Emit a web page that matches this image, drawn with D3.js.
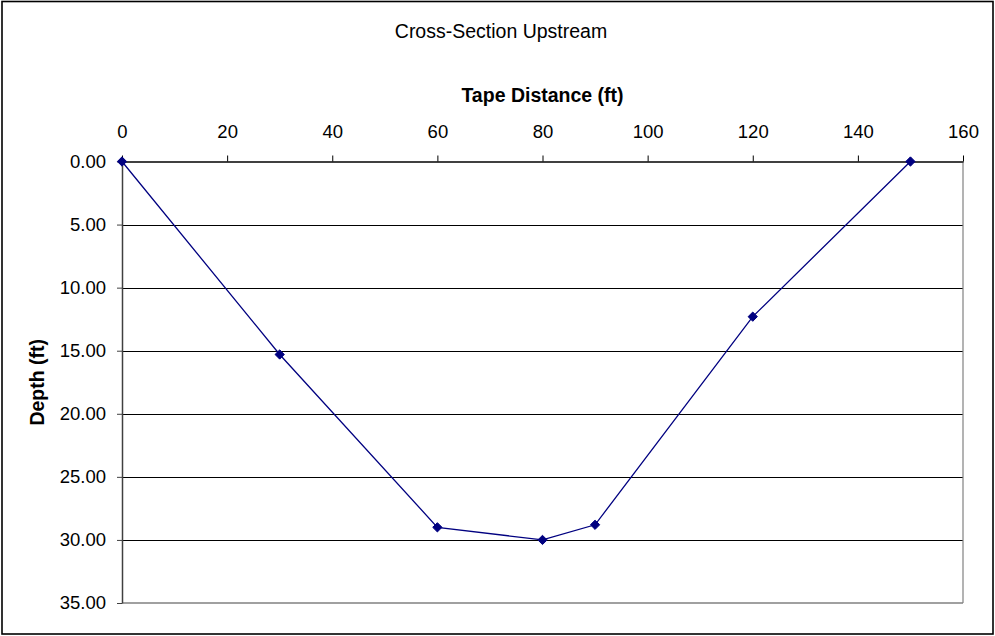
<!DOCTYPE html>
<html>
<head>
<meta charset="utf-8">
<script src="https://cdn.jsdelivr.net/npm/d3@7"></script>
<style>
  html, body { margin: 0; padding: 0; background: #fff; }
  svg { display: block; }
  text { font-family: "Liberation Sans", Arial, sans-serif; fill: #000; }
</style>
</head>
<body>
<svg id="chart" width="995" height="636"></svg>
<script>
const chartTitle = "Cross-Section Upstream";
const xTitle = "Tape Distance (ft)";
const yTitle = "Depth (ft)";
const tapeDistance = [0, 30, 60, 80, 90, 120, 150];
const depth = [0, 15.3, 29.0, 30.0, 28.8, 12.3, 0];
const xTicks = [0, 20, 40, 60, 80, 100, 120, 140, 160];
const yTicks = [0, 5, 10, 15, 20, 25, 30, 35];

(function () {
const svg = d3.select("#chart");
const pLeft = 122, pRight = 963, pTop = 161.5, pBottom = 603;

svg.append("rect").attr("x", 2).attr("y", 1.5).attr("width", 991).attr("height", 632.5)
  .attr("fill", "#fff").attr("stroke", "#000").attr("stroke-width", 1.6);

const x = d3.scaleLinear().domain([0, 160]).range([pLeft, pRight]);
const y = d3.scaleLinear().domain([0, 35]).range([pTop, pBottom]);

// gridlines
svg.append("g").selectAll("line").data(yTicks.filter(d => d > 0 && d < 35)).join("line")
  .attr("x1", pLeft).attr("x2", pRight)
  .attr("y1", d => Math.round(y(d)) + 0.5).attr("y2", d => Math.round(y(d)) + 0.5)
  .attr("stroke", "#000").attr("stroke-width", 1);

// plot frame (right & bottom gray)
svg.append("line").attr("x1", pRight).attr("x2", pRight).attr("y1", pTop).attr("y2", pBottom)
  .attr("stroke", "#808080").attr("stroke-width", 1.2);
svg.append("line").attr("x1", pLeft).attr("x2", pRight).attr("y1", pBottom).attr("y2", pBottom)
  .attr("stroke", "#808080").attr("stroke-width", 1.5);

// y axis (left)
const yAxis = d3.axisLeft(y).tickValues(yTicks).tickFormat(d3.format(".2f")).tickSizeInner(5).tickSizeOuter(0).tickPadding(11);
const gy = svg.append("g").attr("transform", `translate(${pLeft},0)`).call(yAxis);
gy.select(".domain").attr("stroke", "#404040").attr("stroke-width", 1.5);
gy.selectAll(".tick line").attr("stroke", "#404040");
gy.selectAll(".tick text").style("font-size", "18.5px").attr("fill", "#000");

// x axis (top)
const xAxis = d3.axisTop(x).tickValues(xTicks).tickFormat(d3.format("d")).tickSizeInner(6).tickSizeOuter(0).tickPadding(18);
const gx = svg.append("g").attr("transform", `translate(0,${pTop})`).call(xAxis);
gx.select(".domain").attr("stroke", "#404040").attr("stroke-width", 2.2);
gx.selectAll(".tick line").attr("stroke", "#000");
gx.selectAll(".tick text").style("font-size", "18.5px").attr("fill", "#000");
gy.attr("font-family", null);
gx.attr("font-family", null);

// series line
const line = d3.line().x((d, i) => x(tapeDistance[i])).y(d => y(d));
svg.append("path").datum(depth).attr("d", line)
  .attr("fill", "none").attr("stroke", "#000080").attr("stroke-width", 1.3);

// markers
const diamond = d3.symbol().type(d3.symbolDiamond2).size(55);
svg.append("g").selectAll("path").data(depth).join("path")
  .attr("d", diamond)
  .attr("transform", (d, i) => `translate(${x(tapeDistance[i])},${y(d)})`)
  .attr("fill", "#000080").attr("stroke", "#000080").attr("stroke-width", 1);

// titles
svg.append("text").attr("x", 501).attr("y", 38).attr("text-anchor", "middle")
  .style("font-size", "19.5px").text(chartTitle);
svg.append("text").attr("x", (pLeft + pRight) / 2).attr("y", 102).attr("text-anchor", "middle")
  .style("font-size", "19.5px").style("font-weight", "bold").text(xTitle);
svg.append("text").attr("transform", `translate(44,${(pTop + pBottom) / 2}) rotate(-90)`)
  .attr("text-anchor", "middle")
  .style("font-size", "19.5px").style("font-weight", "bold").text(yTitle);
})();
</script>
</body>
</html>
